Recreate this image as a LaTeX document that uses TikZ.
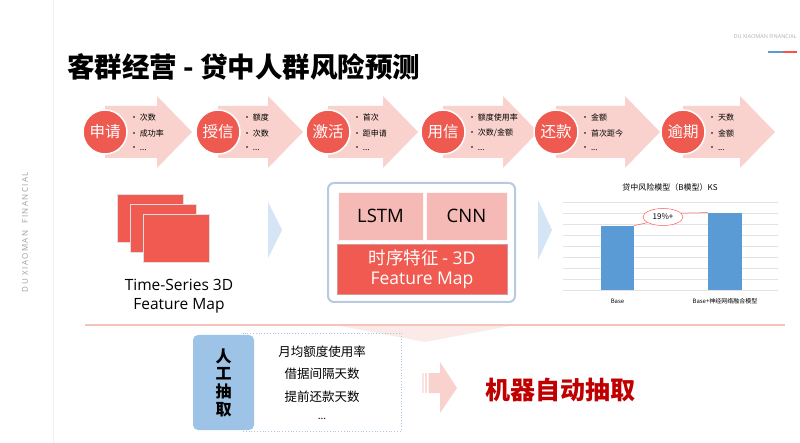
\documentclass[tikz,border=0pt]{standalone}
\usepackage{fontspec}
\setmainfont{Noto Sans CJK SC}
\newfontfamily\lat{Open Sans}
\newfontfamily\latspaced{Open Sans}[LetterSpace=18]
\usetikzlibrary{shapes.geometric}
\definecolor{arrowpink}{HTML}{F9D2CE}
\definecolor{circred}{HTML}{EF5A50}
\definecolor{rectred}{HTML}{F05A50}
\definecolor{cellpink}{HTML}{F5BAB5}
\definecolor{boxblue}{HTML}{B8C9E0}
\definecolor{triblue}{HTML}{D5E5F5}
\definecolor{barblue}{HTML}{5B9BD5}
\definecolor{sideblue}{HTML}{9DC3E6}
\definecolor{dotblue}{HTML}{A9C4E4}
\definecolor{darkred}{HTML}{C00000}
\definecolor{sepline}{HTML}{F3C3BC}
\tikzset{
  chev/.style={fill=arrowpink, draw=none},
  circ/.style={circle, fill=circred, draw=white, line width=1.5pt, minimum size=44pt, inner sep=0pt, text=white, font=\fontsize{15.5}{15.5}\selectfont},
  bul/.style={anchor=west, inner sep=0pt, font=\fontsize{8}{9}\selectfont},
  stackrect/.style={rectangle, fill=rectred, draw=white!75!gray, line width=0.6pt, minimum width=66pt, minimum height=48pt, inner sep=0pt},
  cell/.style={rectangle, fill=cellpink, draw=white!85!pink, line width=0.6pt, inner sep=0pt, font=\lat\fontsize{18.5}{18.5}\selectfont},
  tri/.style={fill=triblue, draw=none},
  bar/.style={rectangle, fill=barblue, draw=none, inner sep=0pt, anchor=south},
  grid/.style={draw=gray!22, line width=0.6pt},
  smalltxt/.style={inner sep=0pt, font=\fontsize{6}{7}\selectfont},
  listtxt/.style={inner sep=0pt, font=\fontsize{12.5}{13}\selectfont}
}
\begin{document}
\begin{tikzpicture}[x=1pt, y=-1pt]
\useasboundingbox (0,0) rectangle (800,443);
\fill[white] (0,0) rectangle (800,443);
% left side line and vertical brand text
\draw[gray!12, line width=1pt] (53,0) -- (53,443);
\node[rotate=90, text=gray!75, inner sep=0pt, font=\latspaced\fontsize{8}{8}\selectfont] (sidebrand) at (25,232) {DU XIAOMAN\ \ FINANCIAL};
% top right brand
\node[anchor=east, text=gray!60, inner sep=0pt, font=\lat\fontsize{5.5}{6}\selectfont] (topbrand) at (797,37) {DU XIAOMAN FINANCIAL};
\draw[barblue, line width=1.6pt] (768,52) -- (783,52);
\draw[red!70, line width=1.6pt] (783,52) -- (797,52);
% title
\node[anchor=west, inner sep=0pt, font=\bfseries\fontsize{27.5}{27.5}\selectfont] (title) at (67,67) {客群经营\ -\ 贷中人群风险预测};
% chevron row
\foreach \i/\c/\hb/\tp/\nm/\la/\lb in {
  1/105/157/192/申请/次数/成功率,
  2/218/268/303/授信/额度/次数,
  3/328/383/418/激活/首次/距申请,
  4/443/503/538/用信/额度使用率/次数\slash 金额,
  5/556/625/660/还款/金额/首次距今,
  6/683/740/775/逾期/天数/金额}{
  \fill[chev] (\c,106) -- (\hb,106) -- (\hb,96) -- (\tp,132) -- (\hb,168) -- (\hb,158) -- (\c,158) -- cycle;
  \node[circ] (c\i) at (\c,132) {\nm};
  \node[bul] (ba\i) at (\c+25,117) {• \la};
  \node[bul] (bb\i) at (\c+25,133) {• \lb};
  \node[bul] (bc\i) at (\c+25,149) {• ...};
}
% stacked feature maps
\node[stackrect] (r1) at (150,218) {};
\node[stackrect] (r2) at (163,228) {};
\node[stackrect] (r3) at (176,238) {};
\node[align=center, inner sep=0pt, font=\lat\fontsize{15.5}{19}\selectfont] (tslabel) at (179,296) {Time-Series 3D\\Feature Map};
% triangles
\fill[tri] (268,202) -- (282,230) -- (268,258) -- cycle;
\fill[tri] (538,200) -- (552,230) -- (538,260) -- cycle;
% model box
\node[draw=boxblue, line width=2pt, rounded corners=6pt, minimum width=187pt, minimum height=119pt, inner sep=0pt] (mbox) at (421.5,242.5) {};
\node[cell, minimum width=85pt, minimum height=48pt] (lstm) at (380.5,216) {LSTM};
\node[cell, minimum width=81pt, minimum height=48pt] (cnn) at (466.5,216) {CNN};
\node[rectangle, fill=rectred, draw=red!60!black!40, line width=0.5pt, minimum width=170pt, minimum height=50pt, inner sep=0pt, text=white, align=center, font=\lat\fontsize{17.5}{20}\selectfont] (tsfeat) at (422,269) {{\fontspec{Noto Sans CJK SC}时序特征 - }3D\\Feature Map};
% chart
\node[inner sep=0pt, font=\fontsize{8}{9}\selectfont] (ctitle) at (670,187) {贷中风险模型（B模型）KS};
\foreach \k in {0,...,8}{
  \draw[grid] (563,202+11*\k) -- (778,202+11*\k);
}
\node[bar, minimum width=33pt, minimum height=64pt] (b1) at (617.5,290) {};
\node[bar, minimum width=34pt, minimum height=77pt] (b2) at (725,290) {};
\node[smalltxt] (l1) at (617.5,301) {Base};
\node[smalltxt] (l2) at (725,301) {Base+神经网络融合模型};
\node[ellipse, draw=red!65, line width=0.5pt, minimum width=40pt, minimum height=17pt, inner sep=0pt, fill=white, font=\fontsize{8}{9}\selectfont] (e) at (663,217) {19\%+};
\draw[red!65, line width=0.5pt] (b1.north east) -- (e.200);
\draw[red!65, line width=0.5pt] (e.12) -- (b2.north west);
% separator
\fill[arrowpink, opacity=0.45] (335,325) -- (515,325) -- (425,342) -- cycle;
\draw[sepline, line width=1.2pt] (85,325) -- (785,325);
% bottom: manual extraction
\node[draw=dotblue, dotted, line width=0.8pt, minimum width=158pt, minimum height=98pt, inner sep=0pt] (listbox) at (322,382) {};
\node[fill=sideblue, rounded corners=5pt, minimum width=61pt, minimum height=95pt, inner sep=0pt, align=center, font=\bfseries\fontsize{16}{17.7}\selectfont] (manual) at (223.5,382.5) {人\\工\\抽\\取};
\node[listtxt] (t1) at (322,352) {月均额度使用率};
\node[listtxt] (t2) at (322,374) {借据间隔天数};
\node[listtxt] (t3) at (322,397) {提前还款天数};
\node[inner sep=0pt, font=\fontsize{10}{10}\selectfont] (t4) at (322,419) {...};
% bottom arrow
\fill[arrowpink!60] (422,373) rectangle (423.5,393);
\fill[arrowpink!80] (425,373) rectangle (427,393);
\fill[arrowpink] (428.5,373) -- (440,373) -- (440,362) -- (457,388) -- (440,413) -- (440,393) -- (428.5,393) -- cycle;
\node[anchor=west, inner sep=0pt, text=darkred, font=\bfseries\fontsize{25}{25}\selectfont] (auto) at (485,390) {机器自动抽取};
\end{tikzpicture}
\end{document}
